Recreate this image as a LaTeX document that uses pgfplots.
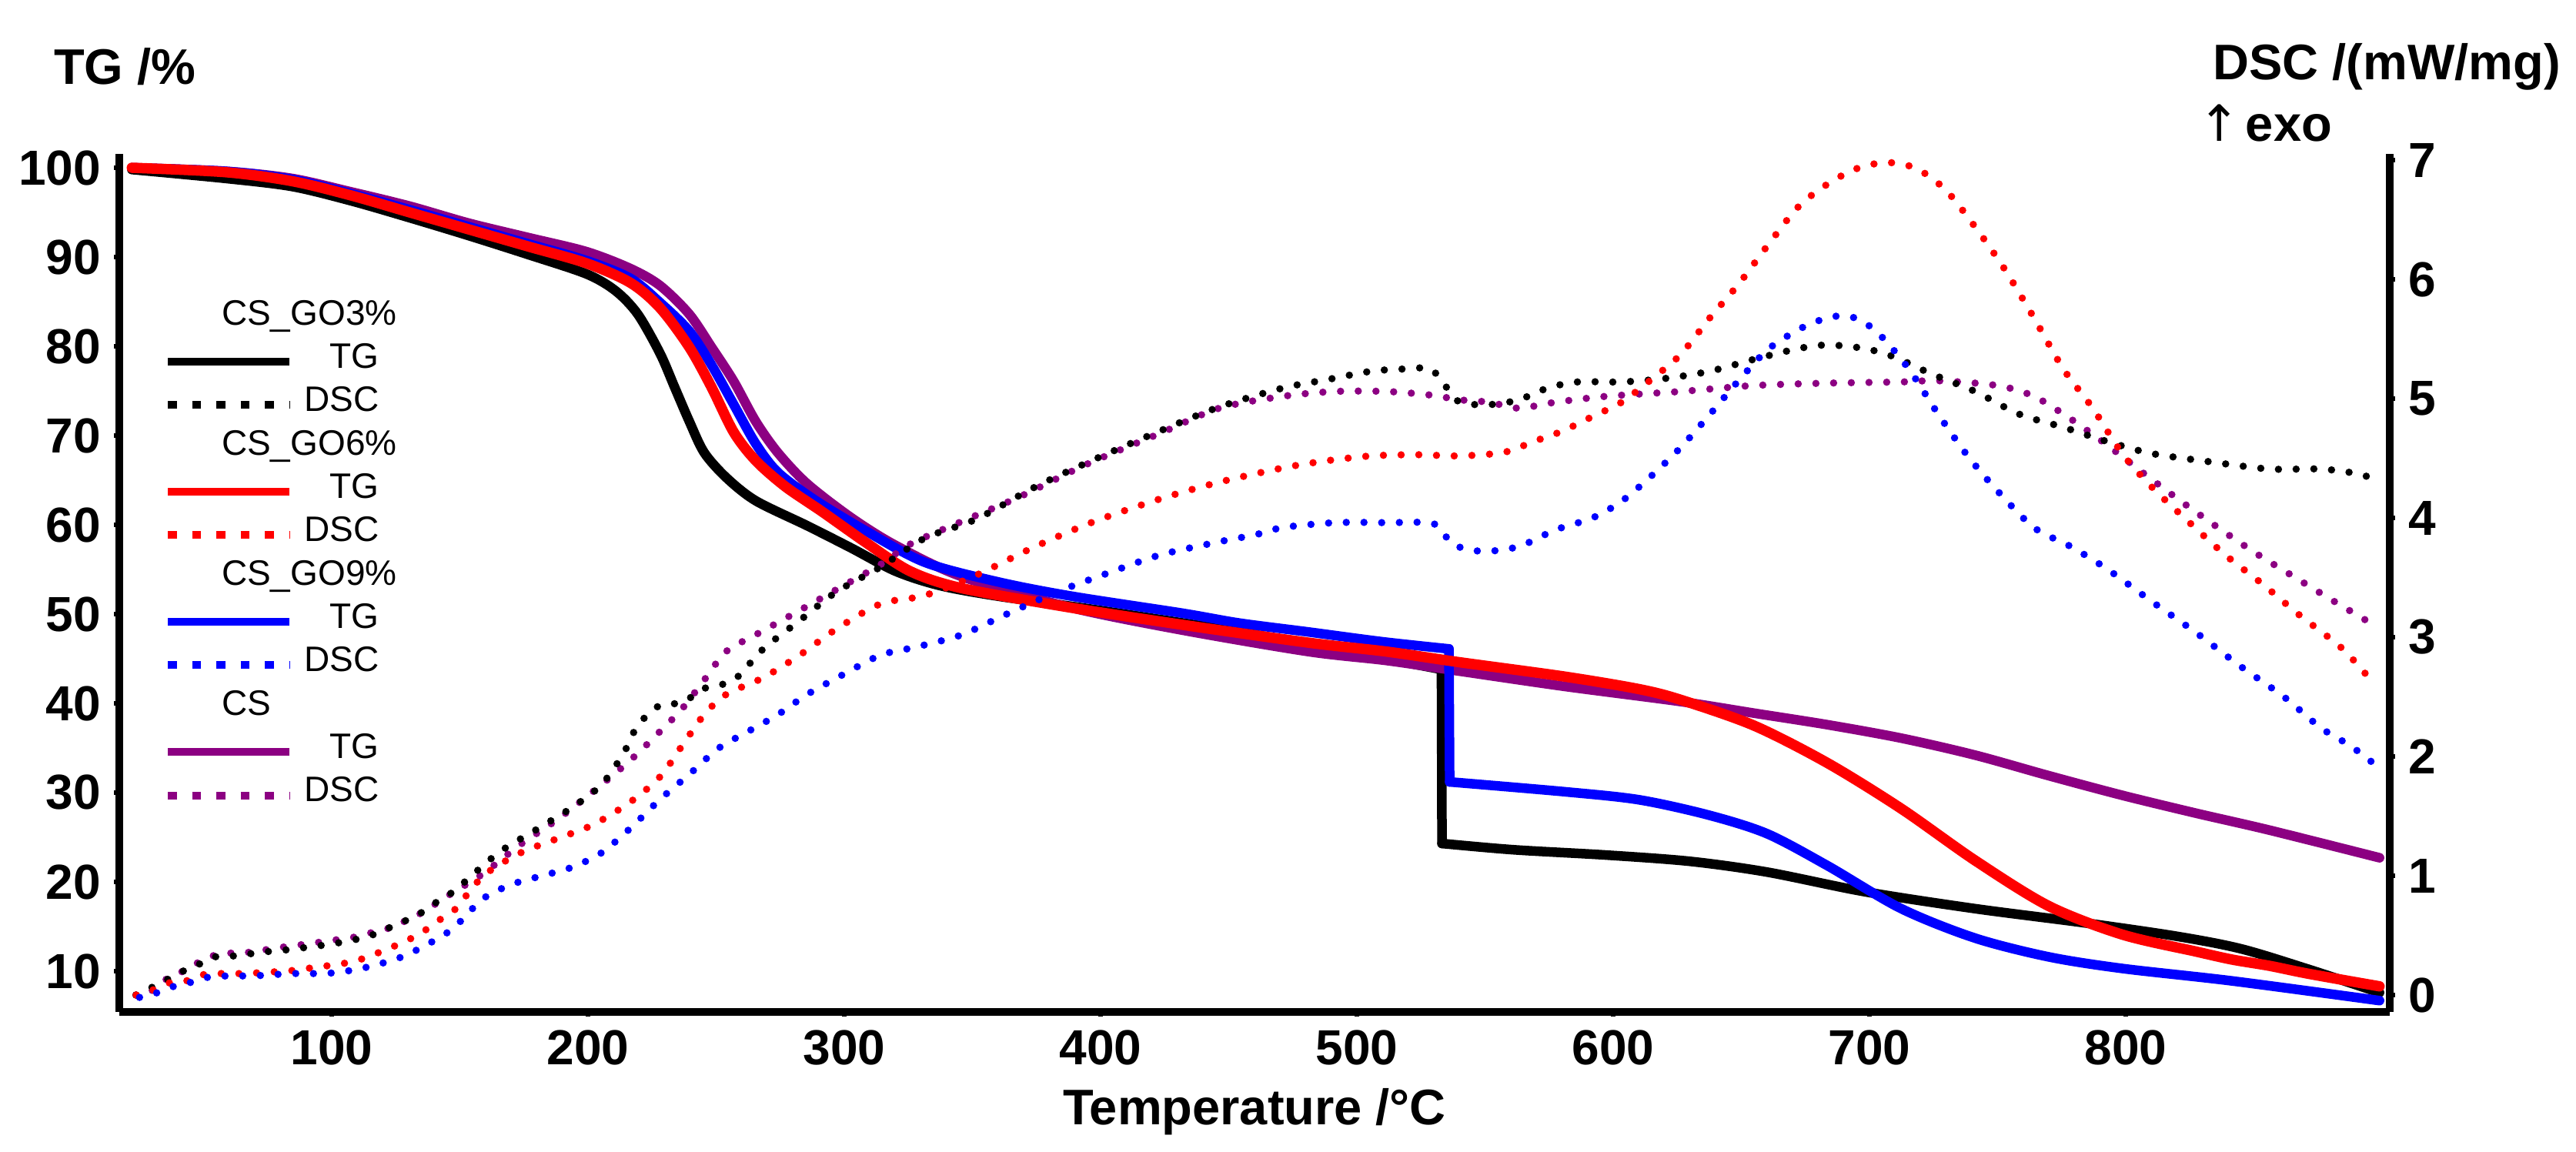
\documentclass[border=0pt]{standalone}
\usepackage{pgfplots}
\pgfplotsset{compat=1.18}
\usepackage{fontspec}
\setmainfont{Liberation Sans}
\newfontfamily\symfont{DejaVu Sans}
\definecolor{cspurple}{RGB}{140,0,130}
\newcommand\hdr[1]{\makebox[0pt][l]{\hspace*{-40.4pt}#1}}
\pgfplotsset{
  common/.style={
    width=590pt, height=223pt, scale only axis,
    at={(31pt,36.4pt)}, anchor=south west,
    xmin=17.1, xmax=903,
    axis line style={line width=2pt, -},
    tick align=outside,
    major tick length=1.3pt, minor tick length=0.9pt,
    tick style={black, line width=1.3pt},
    tick label style={font=\bfseries\fontsize{12.8}{14}\selectfont},
    /pgf/number format/assume math mode=true,
  },
  tg/.style={line width=#1, line cap=round, line join=round},
  dsc/.style={line width=1.9pt, line cap=round, dash pattern=on 0pt off 4.6pt},
  legdsc/.style={line width=2pt, line cap=butt, dash pattern=on 2.3pt off 4pt},
}
\begin{document}
\begin{tikzpicture}
\useasboundingbox (0,0) rectangle (669.4pt,299.4pt);
% ---------------- TG axis ----------------
\begin{axis}[common,
  axis x line*=bottom, axis y line*=left,
  ymin=5.43, ymax=101.55,
  xtick={100,200,...,800}, minor xtick={40,60,...,900},
  ytick={10,20,...,100}, minor ytick={7.5,10,...,100},
]
% CS_GO3% TG
\addplot[black, tg=2.5pt, smooth, tension=0.5] coordinates {
(22,99.8)(58.7,98.8)(84.5,97.9)(107.5,96.3)(130.4,94.4)(153.4,92.4)(176.4,90.3)(199.4,88.1)(210.8,86.2)(219.4,83.6)(228.1,79.2)(233.8,75.4)(239.5,71.6)(245.3,68.1)(253.9,65.3)(265.4,62.7)(285.5,59.9)(302.7,57.4)(320,54.8)(337.2,53.2)(360.1,52.0)(400,50.4)(454,48.0)(500,45.6)(533,43.8)};
\addplot[black, tg=2.5pt] coordinates {(533,43.8)(533.2,24.3)};
\addplot[black, tg=2.5pt, smooth, tension=0.5] coordinates {
(533.2,24.3)(561,23.6)(597.6,23.0)(630,22.3)(660,21.1)(698.1,18.9)(741.2,17.0)(784.2,15.4)(820,13.9)(845,12.5)(871.4,10.2)(899,7.6)};
% CS TG
\addplot[cspurple, tg=2.5pt, smooth, tension=0.5] coordinates {
(22,100)(58.7,99.6)(84.5,98.8)(107.5,97.3)(130.4,95.7)(153.4,93.8)(176.4,92.2)(199.4,90.6)(216.6,88.7)(228.1,86.8)(239.5,83.6)(248.2,79.9)(256.8,76.1)(265.4,71.6)(274,68.1)(285.5,64.6)(302.7,60.8)(320,57.7)(345.8,54.2)(388.8,50.7)(431.9,48.2)(481,45.8)(511.5,44.8)(540.2,43.6)(581,41.9)(626.3,40.2)(655,38.9)(683.7,37.6)(712.4,36.1)(741.2,34.2)(769.9,31.9)(798.6,29.7)(827.3,27.7)(856,25.8)(899,22.7)};
% CS_GO9% TG
\addplot[blue, tg=2.5pt, smooth, tension=0.5] coordinates {
(22,100)(58.7,99.6)(84.5,98.7)(107.5,97.1)(130.4,95.3)(153.4,93.4)(176.4,91.5)(199.4,89.6)(216.6,87.6)(228.1,84.9)(239.5,81.7)(248.2,77.9)(256.8,73.5)(265.4,69.1)(274,65.9)(288.4,62.8)(308.5,59.3)(331.4,55.8)(360.1,53.6)(388.8,52.0)(431.9,50.1)(454,49.0)(481,48.0)(510,46.9)(535.9,46.1)};
\addplot[blue, tg=2.5pt] coordinates {(535.9,46.1)(536.2,31.2)};
\addplot[blue, tg=2.5pt, smooth, tension=0.5] coordinates {
(536.2,31.2)(581,30.1)(610,29.2)(637,27.5)(660,25.4)(683.7,21.8)(712.4,17.0)(741.2,13.7)(769.9,11.6)(798.6,10.3)(841.6,8.9)(899,6.7)};
% CS_GO6% TG
\addplot[red, tg=2.7pt, smooth, tension=0.5] coordinates {
(22,100)(58.7,99.5)(84.5,98.5)(107.5,96.9)(130.4,95.0)(153.4,93.1)(176.4,91.2)(199.4,89.3)(216.6,87.1)(228.1,84.3)(239.5,79.9)(248.2,75.4)(256.8,70.4)(265.4,67.2)(276.9,64.3)(291.2,61.5)(308.5,58.0)(325.7,54.8)(345.8,52.9)(388.8,50.7)(431.9,48.8)(481,46.8)(511.5,45.8)(540.2,44.6)(581,43.0)(610,41.6)(626.3,40.4)(655,37.5)(683.7,33.3)(712.4,28.2)(741.2,22.4)(769.9,17.3)(798.6,14.1)(827.3,12.2)(841.4,11.3)(856,10.6)(871.4,9.7)(899,8.3)};
\end{axis}
% ---------------- DSC axis ----------------
\begin{axis}[common,
  axis x line=none, axis y line*=right,
  ymin=-0.142, ymax=7.052,
  ytick={0,1,...,7}, minor ytick={0,0.2,...,7},
  legend cell align=right,
  legend image code/.code={\draw[#1] (0pt,0pt) -- (31.6pt,0pt);},
  legend style={at={(0.0193,0.8345)}, anchor=north west, draw=none, fill=none,
    inner sep=0pt, column sep=2.8pt, row sep=0pt,
    font=\fontsize{9.2}{11}\selectfont,
    nodes={inner sep=0pt, text height=7.3pt, text depth=3.97pt}},
]
\addlegendimage{empty legend}\addlegendentry{\hdr{CS\_GO3\%}}
\addlegendimage{black, line width=2pt}\addlegendentry{TG}
\addlegendimage{black, legdsc}\addlegendentry{DSC}
\addlegendimage{empty legend}\addlegendentry{\hdr{CS\_GO6\%}}
\addlegendimage{red, line width=2.1pt}\addlegendentry{TG}
\addlegendimage{red, legdsc}\addlegendentry{DSC}
\addlegendimage{empty legend}\addlegendentry{\hdr{CS\_GO9\%}}
\addlegendimage{blue, line width=2.1pt}\addlegendentry{TG}
\addlegendimage{blue, legdsc}\addlegendentry{DSC}
\addlegendimage{empty legend}\addlegendentry{\hdr{CS}}
\addlegendimage{cspurple, line width=2.1pt}\addlegendentry{TG}
\addlegendimage{cspurple, legdsc}\addlegendentry{DSC}
% CS DSC
\addplot[cspurple, dsc, smooth, tension=0.5, forget plot] coordinates {
(23.6,0)(27,0.0)(32,0.07)(36.6,0.15)(42,0.2)(47.7,0.27)(52,0.32)(60,0.35)(69,0.36)(77,0.39)(84,0.41)(91,0.43)(97.7,0.45)(104,0.47)(110,0.49)(116.7,0.53)(123.7,0.57)(130.4,0.64)(136,0.70)(141.6,0.78)(146.6,0.85)(159.2,1.02)(173.5,1.26)(187.9,1.47)(202.2,1.71)(216.6,1.97)(228.1,2.21)(236.7,2.40)(245.3,2.64)(253.9,2.88)(265.4,3.02)(279.7,3.19)(297,3.40)(314.2,3.61)(325.7,3.78)(345.8,3.97)(368.7,4.18)(394.6,4.45)(423.3,4.71)(446.3,4.92)(471.3,5.02)(491.4,5.06)(511.5,5.06)(528.7,5.03)(540.2,4.99)(551.7,4.97)(563.1,4.92)(577.5,4.97)(597.6,5.02)(626.3,5.06)(655,5.11)(683.7,5.13)(712.4,5.14)(726.8,5.15)(749.8,5.11)(764.1,5.02)(778.5,4.83)(792.8,4.61)(807.2,4.37)(821.5,4.14)(835.9,3.92)(850.3,3.71)(864.6,3.52)(879,3.33)(896.2,3.11)};
% CS_GO3% DSC
\addplot[black, dsc, smooth, tension=0.5, forget plot] coordinates {
(23.6,0.0)(32.8,0.095)(42,0.2)(49.5,0.27)(54.5,0.32)(64,0.33)(72,0.36)(79,0.37)(94,0.41)(100.5,0.43)(108.2,0.46)(115.4,0.50)(122,0.56)(127.4,0.61)(133.4,0.67)(139,0.75)(143.6,0.82)(148.2,0.88)(164.9,1.19)(179.3,1.38)(193.6,1.57)(205.1,1.76)(213.7,2.02)(219.4,2.26)(228.1,2.43)(236.7,2.45)(245.3,2.57)(256.8,2.64)(268.3,2.90)(282.6,3.14)(296.9,3.38)(314.2,3.59)(331.4,3.83)(351.5,3.99)(374.5,4.26)(397.5,4.49)(423.3,4.73)(446.3,4.93)(471.3,5.09)(488.5,5.16)(505.7,5.23)(520.1,5.25)(528.7,5.25)(534.4,5.11)(540.2,4.97)(551.7,4.95)(563.1,4.99)(574.6,5.09)(586.1,5.14)(603.3,5.14)(620.6,5.17)(637.8,5.23)(655,5.33)(672.3,5.42)(683.7,5.45)(698.1,5.42)(709.6,5.35)(723.9,5.21)(741.2,5.06)(758.4,4.87)(775.6,4.76)(792.8,4.64)(810.1,4.54)(833,4.47)(856,4.41)(876.1,4.41)(890.4,4.37)(899,4.31)};
% CS_GO6% DSC
\addplot[red, dsc, smooth, tension=0.5, forget plot] coordinates {
(23.7,0.0)(30.6,0.045)(36.3,0.10)(43.5,0.12)(49.8,0.17)(57,0.18)(66.4,0.18)(73.5,0.19)(82.4,0.20)(89.5,0.22)(96.5,0.24)(103.4,0.26)(110,0.29)(116.4,0.34)(122.4,0.39)(127.4,0.44)(133.4,0.50)(138.9,0.58)(143.4,0.65)(148.2,0.72)(159.2,1.00)(173.5,1.19)(187.9,1.31)(202.2,1.43)(216.6,1.62)(228.1,1.83)(236.7,2.09)(245.3,2.35)(253.9,2.52)(268.3,2.66)(282.6,2.85)(297,3.07)(314.2,3.28)(331.4,3.35)(351.5,3.52)(374.5,3.76)(397.5,3.97)(423.3,4.16)(446.3,4.30)(471.3,4.42)(488.5,4.48)(505.7,4.52)(523,4.53)(540.2,4.52)(557.4,4.55)(568.9,4.64)(580.4,4.73)(591.9,4.85)(603.3,4.97)(614.8,5.16)(626.3,5.37)(637.8,5.68)(649.3,5.97)(660.8,6.30)(672.3,6.61)(683.7,6.80)(695.2,6.93)(706.7,6.98)(718.2,6.93)(729.7,6.75)(741.2,6.44)(752.6,6.09)(764.1,5.68)(775.6,5.25)(787.1,4.92)(798.6,4.54)(810.1,4.26)(824.4,3.97)(838.8,3.69)(853.1,3.45)(867.5,3.19)(884.7,2.90)(897.6,2.59)};
% CS_GO9% DSC
\addplot[blue, dsc, smooth, tension=0.5, forget plot] coordinates {
(25,-0.02)(32,0.02)(38,0.07)(44,0.10)(52,0.15)(60,0.16)(69,0.16)(76.5,0.17)(85.5,0.18)(96,0.18)(102.5,0.19)(111,0.22)(118.5,0.26)(125,0.30)(131.5,0.36)(137,0.42)(142.5,0.49)(148,0.57)(159.2,0.81)(170.6,0.93)(182.1,1.00)(193.6,1.07)(205.1,1.19)(216.6,1.40)(228.1,1.64)(239.5,1.85)(251,2.07)(262.5,2.21)(274,2.35)(285.5,2.52)(299.8,2.69)(314.2,2.85)(328.5,2.92)(345.8,3.02)(363,3.19)(383.1,3.38)(403.2,3.54)(423.3,3.69)(446.3,3.80)(460.6,3.86)(471.3,3.92)(491.4,3.96)(511.5,3.96)(530.1,3.95)(537.3,3.78)(548.8,3.72)(563.1,3.76)(577.5,3.90)(591.9,4.00)(603.3,4.14)(614.8,4.35)(626.3,4.59)(637.8,4.87)(649.3,5.16)(660.8,5.42)(675.1,5.61)(686.6,5.69)(695.2,5.67)(703.8,5.54)(715.3,5.25)(726.8,4.87)(738.3,4.52)(749.8,4.23)(764.1,3.92)(778.5,3.76)(792.8,3.57)(810.1,3.30)(827.3,3.04)(844.5,2.76)(861.7,2.50)(876.1,2.24)(887.6,2.09)(896.2,1.95)};
\end{axis}
% ---------------- titles ----------------
\node[anchor=base west, inner sep=0pt, font=\bfseries\fontsize{13}{15}\selectfont] at (13.8pt,277.4pt) {TG /\%};
\node[anchor=base east, inner sep=0pt, font=\bfseries\fontsize{13}{15}\selectfont] at (665.6pt,278.6pt) {DSC /(mW/mg)};
\node[anchor=base west, inner sep=0pt, font=\bfseries\fontsize{13}{15}\selectfont] at (571pt,262.6pt) {{\symfont\mdseries ↑}\hspace{1.5pt}exo};
\node[anchor=base, inner sep=0pt, font=\bfseries\fontsize{13}{15}\selectfont] at (326pt,7pt) {Temperature /°C};
\end{tikzpicture}
\end{document}
